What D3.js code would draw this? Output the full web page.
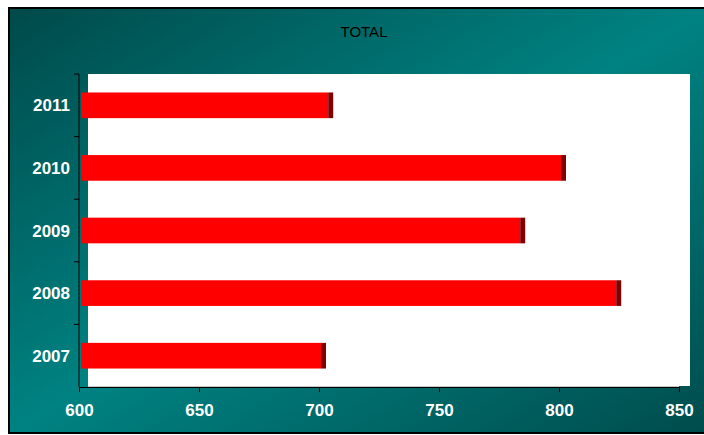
<!DOCTYPE html>
<html>
<head>
<meta charset="utf-8">
<script src="https://cdn.jsdelivr.net/npm/d3@7"></script>
<style>
  body { margin: 0; background: #fff; }
  svg { display: block; }
</style>
</head>
<body>
<div id="chart"></div>
<script>
var width = 704;
var height = 435;

var years = ["2007", "2008", "2009", "2010", "2011"];
var totals = [700, 823, 783, 800, 703];
var xTicks = [600, 650, 700, 750, 800, 850];
var title = "TOTAL";

var svg = d3.select("#chart").
append("svg").
attr("width", width).
attr("height", height);

var defs = svg.append("defs");
var grad = defs.append("linearGradient").
attr("id", "bg").
attr("x1", 0).attr("y1", 0).
attr("x2", 1).attr("y2", 1);
grad.append("stop").attr("offset", 0).attr("stop-color", "#004a4a");
grad.append("stop").attr("offset", 0.5).attr("stop-color", "#008282");
grad.append("stop").attr("offset", 1).attr("stop-color", "#004c4c");

// chart area with gradient fill
svg.append("rect").
attr("x", 9).
attr("y", 8).
attr("width", 700).
attr("height", 425).
attr("fill", "url(#bg)").
attr("stroke", "#000").
attr("stroke-width", 2);

var x = d3.scaleLinear().domain([600, 850]).range([79, 679]);
var y = d3.scaleBand().domain(years.slice().reverse()).range([74, 387]).paddingInner(0.59).paddingOuter(0.295);
var depth = 10;

// back wall
svg.append("rect").
attr("x", x(600) + depth - 1).
attr("y", 74).
attr("width", x(850) - x(600) + 2).
attr("height", 312).
attr("fill", "#fff");
svg.append("line").
attr("x1", x(600) + depth - 1).attr("x2", x(850)).
attr("y1", 386.5).attr("y2", 386.5).
attr("stroke", "#c8c8c8");

svg.append("text").
attr("x", 364).
attr("y", 37).
attr("text-anchor", "middle").
style("font-family", "Liberation Sans, Arial, sans-serif").
style("font-size", "15px").
attr("fill", "#000").
text(title);

var bar = svg.selectAll(".bar").
data(years).
enter().
append("g").
attr("class", "bar");

bar.append("rect").
attr("x", x(600) + 2).
attr("y", function (d) {return y(d);}).
attr("width", function (d, i) {return x(totals[i]) - x(600);}).
attr("height", y.bandwidth()).
attr("fill", "#ff0000");

bar.append("rect").
attr("x", function (d, i) {return x(totals[i]) + 2;}).
attr("y", function (d) {return y(d);}).
attr("width", 5).
attr("height", y.bandwidth()).
attr("fill", "#800000");

// y axis
var yAxis = svg.append("g").
attr("transform", "translate(" + x(600) + ",0)");
yAxis.append("line").
attr("x1", 0).attr("x2", 0).
attr("y1", 74).attr("y2", 387).
attr("stroke", "#000");
var bounds = years.map(function (d) {return y(d) - y.step() * y.paddingInner() / 2;});
yAxis.selectAll(".ytick").
data(bounds).
enter().
append("line").
attr("x1", -5).attr("x2", 0).
attr("y1", function (d) {return d;}).
attr("y2", function (d) {return d;}).
attr("stroke", "#000");
yAxis.selectAll(".ylabel").
data(years).
enter().
append("text").
attr("x", -9).
attr("y", function (d) {return y(d) + y.bandwidth() / 2 + 6;}).
attr("text-anchor", "end").
attr("fill", "#fff").
style("font-family", "Liberation Sans, Arial, sans-serif").
style("font-size", "17px").
style("font-weight", "bold").
text(function (d) {return d;});

// x axis
var xAxis = d3.axisBottom(x).tickValues(xTicks).tickSize(5).tickSizeOuter(0).tickPadding(12);
var gx = svg.append("g").
attr("transform", "translate(0,387)").
call(xAxis);
gx.select(".domain").attr("stroke", "#000");
gx.selectAll(".tick line").attr("stroke", "#000");
gx.selectAll("text").
attr("fill", "#fff").
style("font-family", "Liberation Sans, Arial, sans-serif").
style("font-size", "17px").
style("font-weight", "bold");
</script>
</body>
</html>
